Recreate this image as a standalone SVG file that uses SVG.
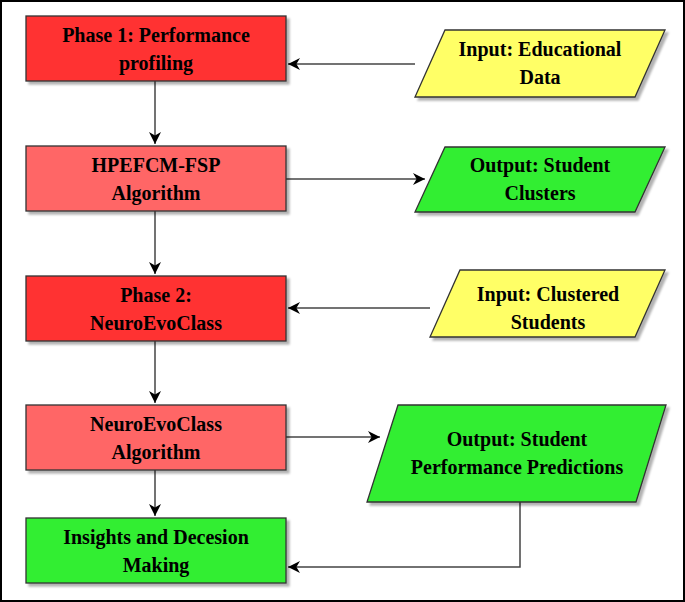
<svg xmlns="http://www.w3.org/2000/svg" width="685" height="602" viewBox="0 0 685 602">
<defs>
<marker id="ah" viewBox="0 0 10 10" refX="10" refY="5" markerWidth="12" markerHeight="12" markerUnits="userSpaceOnUse" orient="auto"><path d="M0,0 L10,5 L0,10 L3,5 Z" fill="#000"/></marker>
<filter id="sh" x="-10%" y="-10%" width="130%" height="130%"><feDropShadow dx="3" dy="3" stdDeviation="1" flood-color="#000" flood-opacity="0.3"/></filter>
</defs>
<style>
.b{stroke:#333;stroke-width:1.3;filter:url(#sh)}
.r1{fill:#ff3333}.r2{fill:#ff6666}.g{fill:#33ee33}.y{fill:#ffff66}
text{font-family:"Liberation Serif",serif;font-weight:bold;font-size:20px;fill:#000;text-anchor:middle}
.c{fill:none;stroke:#444;stroke-width:1.5;marker-end:url(#ah)}
</style>
<rect x="1" y="1" width="683" height="600" fill="#fff" stroke="#000" stroke-width="2"/>
<g id="connectors">
<path class="c" d="M415,64 H288"/>
<path class="c" d="M155,81 V144"/>
<path class="c" d="M286,179 H425"/>
<path class="c" d="M155,211 V274"/>
<path class="c" d="M430,308 H288"/>
<path class="c" d="M155,341 V403"/>
<path class="c" d="M286,437 H380"/>
<path class="c" d="M155,470 V516"/>
<path class="c" d="M520,502 V567 H288"/>
</g>
<g id="n1"><rect class="b r1" x="26" y="16" width="260" height="65"/><text x="156" y="42">Phase 1: Performance</text><text x="156" y="70">profiling</text></g>
<g id="n2"><rect class="b r2" x="26" y="146" width="260" height="65"/><text x="156" y="172">HPEFCM-FSP</text><text x="156" y="200">Algorithm</text></g>
<g id="n3"><rect class="b r1" x="26" y="276" width="260" height="65"/><text x="156" y="302">Phase 2:</text><text x="156" y="330">NeuroEvoClass</text></g>
<g id="n4"><rect class="b r2" x="26" y="405" width="260" height="65"/><text x="156" y="431">NeuroEvoClass</text><text x="156" y="459">Algorithm</text></g>
<g id="n5"><rect class="b g" x="26" y="518" width="260" height="65"/><text x="156" y="544">Insights and Decesion</text><text x="156" y="572">Making</text></g>
<g id="p1"><polygon class="b y" points="445,30 665,30 635,97 415,97"/><text x="540" y="56">Input: Educational</text><text x="540" y="84">Data</text></g>
<g id="p2"><polygon class="b g" points="445,147 665,147 635,212 415,212"/><text x="540" y="172">Output: Student</text><text x="540" y="200">Clusters</text></g>
<g id="p3"><polygon class="b y" points="460,270 665,270 635,337 430,337"/><text x="548" y="301">Input: Clustered</text><text x="548" y="329">Students</text></g>
<g id="p4"><polygon class="b g" points="398,405 666,405 636,502 367,502"/><text x="517" y="446">Output: Student</text><text x="517" y="474">Performance Predictions</text></g>
</svg>
